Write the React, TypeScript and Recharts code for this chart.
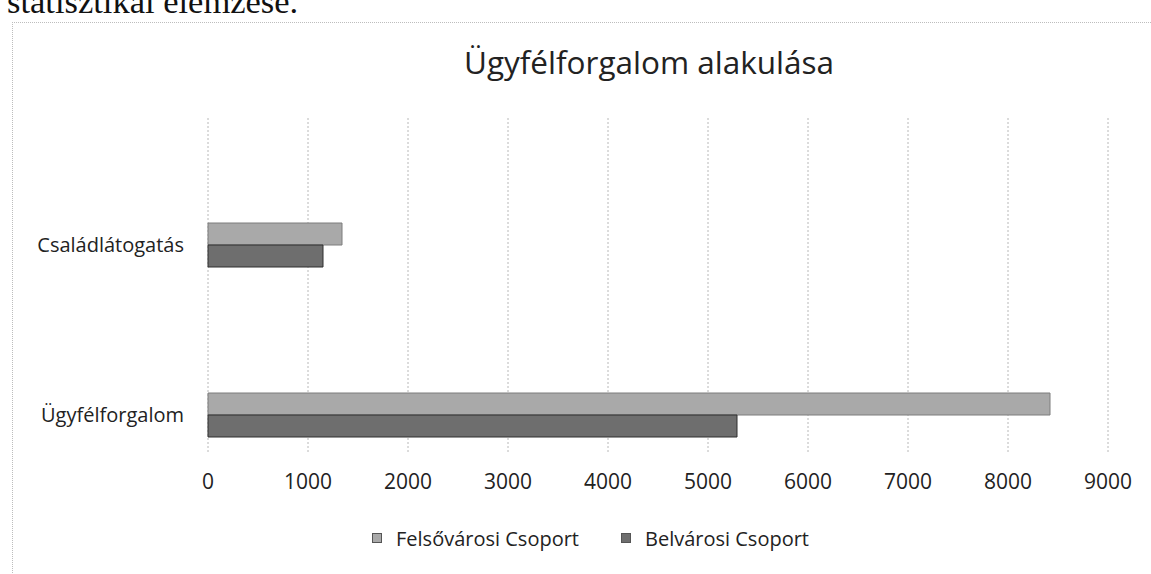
import { BarChart, Bar, XAxis, YAxis, CartesianGrid, Legend } from 'recharts'

const categories = ['Családlátogatás', 'Ügyfélforgalom']
const felsovarosi = [1340, 8420]
const belvarosi = [1150, 5290]
const seriesNames = ['Felsővárosi Csoport', 'Belvárosi Csoport']
const xTicks = [0, 1000, 2000, 3000, 4000, 5000, 6000, 7000, 8000, 9000]

const data = categories.map((name, i) => ({
  name,
  felso: felsovarosi[i],
  belv: belvarosi[i],
}))

const FONT = '"Open Sans", sans-serif'
const TEXT = '#222'

function ChartLegend({ payload }: any) {
  // keep the series order (recharts sorts legend items by name by default)
  const items = [...(payload || [])].sort(
    (a: any, b: any) => seriesNames.indexOf(a.value) - seriesNames.indexOf(b.value),
  )
  return (
    <div style={{ display: 'flex', alignItems: 'center', height: 28, marginLeft: 372, fontFamily: FONT, fontSize: 20, color: TEXT }}>
      {items.map((p: any, i: number) => (
        <div key={i} style={{ display: 'flex', alignItems: 'center', marginRight: 42 }}>
          <span style={{ width: 8, height: 8, background: p.color, border: '1px solid #555', marginRight: 14 }} />
          <span>{p.value}</span>
        </div>
      ))}
    </div>
  )
}

export default function App() {
  return (
    <div style={{ position: 'absolute', left: 0, top: 0, width: 1151, height: 574, background: '#fff', overflow: 'hidden' }}>
      {/* cut-off line of the scanned page above the chart */}
      <div style={{ position: 'absolute', left: 7, top: -16, fontFamily: '"Liberation Serif", serif', fontSize: 34.5, lineHeight: 1, color: '#111', whiteSpace: 'nowrap' }}>
        statisztikai elemzése.
      </div>
      {/* dotted chart frame */}
      <div style={{ position: 'absolute', left: 12, top: 22, width: 1200, height: 600, borderLeft: '1px dotted #bdbdbd', borderTop: '1px dotted #bdbdbd' }} />
      <div style={{ position: 'absolute', left: 349, top: 44, width: 600, textAlign: 'center', fontFamily: FONT, fontSize: 31.5, lineHeight: '36px', color: TEXT }}>
        Ügyfélforgalom alakulása
      </div>
      <BarChart
        width={1151}
        height={574}
        data={data}
        layout="vertical"
        barGap={0}
        margin={{ top: 160, right: 43, bottom: 16, left: 0 }}
        style={{ position: 'absolute', left: 0, top: 0, fontFamily: FONT }}
      >
        <CartesianGrid horizontal={false} y={118} height={334} stroke="#b8b8b8" strokeDasharray="2 2" />
        <XAxis
          type="number"
          domain={[0, 9000]}
          ticks={xTicks}
          interval={0}
          axisLine={false}
          tickLine={false}
          height={30}
          tick={{ fontSize: 21, fill: TEXT, fontFamily: FONT, dy: -34 }}
        />
        <YAxis
          type="category"
          dataKey="name"
          width={208}
          axisLine={false}
          tickLine={false}
          tickMargin={18}
          tick={{ fontSize: 20, fill: TEXT, fontFamily: FONT }}
        />
        <Legend verticalAlign="bottom" content={<ChartLegend />} wrapperStyle={{ top: 524, left: 0, width: 1151 }} />
        <Bar dataKey="felso" name={seriesNames[0]} fill="#a9a9a9" stroke="#7c7c7c" barSize={22} isAnimationActive={false} />
        <Bar dataKey="belv" name={seriesNames[1]} fill="#6e6e6e" stroke="#2e2e2e" barSize={22} isAnimationActive={false} />
      </BarChart>
    </div>
  )
}
